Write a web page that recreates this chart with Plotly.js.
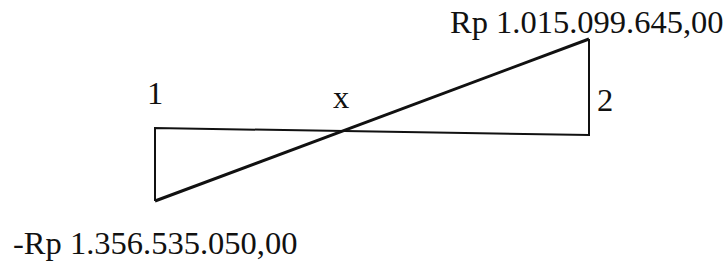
<!DOCTYPE html>
<html>
<head>
<meta charset="utf-8">
<script src="https://cdn.plot.ly/plotly-3.0.1.min.js"></script>
<style>html,body{margin:0;padding:0;background:#fff;}#chart{width:728px;height:261px;}</style>
</head>
<body>
<div id="chart"></div>
<script>
// Stations along the member (relative position 0..1)
const stationLabels = ['1', 'x', '2'];
const stationPos = [0, 0.429, 1];

// End moments (Rp) and their printed labels
const endPos = [0, 1];
const endValues = [-1356535050.00, 1015099645.00];
const endLabels = ['-Rp 1.356.535.050,00', 'Rp 1.015.099.645,00'];

// Schematic drawing ordinates (diagram units)
const baseOrd = [3.5, -3.5];      // reference (zero) line, slightly tilted in the scan
const diagramOrd = [-69.5, 92.5]; // diagram ordinates at the two ends

const black = '#111111';
const serif = 'Liberation Serif, Times New Roman, serif';
const fontSize = 32.5;

const traces = [
  { // outline: left ordinate, zero line, right ordinate
    x: [endPos[0], endPos[0], endPos[1], endPos[1]],
    y: [diagramOrd[0], baseOrd[0], baseOrd[1], diagramOrd[1]],
    mode: 'lines', line: { color: black, width: 2 }, hoverinfo: 'skip'
  },
  { // moment line
    x: endPos, y: diagramOrd,
    mode: 'lines', line: { color: black, width: 3 }, hoverinfo: 'skip'
  }
];

const stationY = [39, 35, 32];
const stationShift = [0, 0, 16];
const annotations = [];
stationLabels.forEach((t, i) => annotations.push({
  x: stationPos[i], y: stationY[i], xref: 'x', yref: 'y', text: t, showarrow: false,
  xanchor: 'center', yanchor: 'middle', xshift: stationShift[i],
  font: { family: serif, size: fontSize, color: black }
}));
const labelY = [-111, 110];
endLabels.forEach((t, i) => annotations.push({
  x: endPos[i], y: labelY[i], xref: 'x', yref: 'y', text: t, showarrow: false,
  xanchor: 'center', yanchor: 'middle', xshift: i === 1 ? -2 : 0,
  font: { family: serif, size: fontSize, color: black }
}));

const layout = {
  width: 728, height: 261,
  margin: { l: 0, r: 0, t: 0, b: 0 },
  paper_bgcolor: '#ffffff', plot_bgcolor: '#ffffff',
  showlegend: false,
  xaxis: { range: [-155 / 434, -155 / 434 + 728 / 434], visible: false, fixedrange: true },
  yaxis: { range: [-129.5, 131.5], visible: false, fixedrange: true },
  annotations: annotations
};

Plotly.newPlot('chart', traces, layout, { staticPlot: true, displayModeBar: false });
</script>
</body>
</html>
